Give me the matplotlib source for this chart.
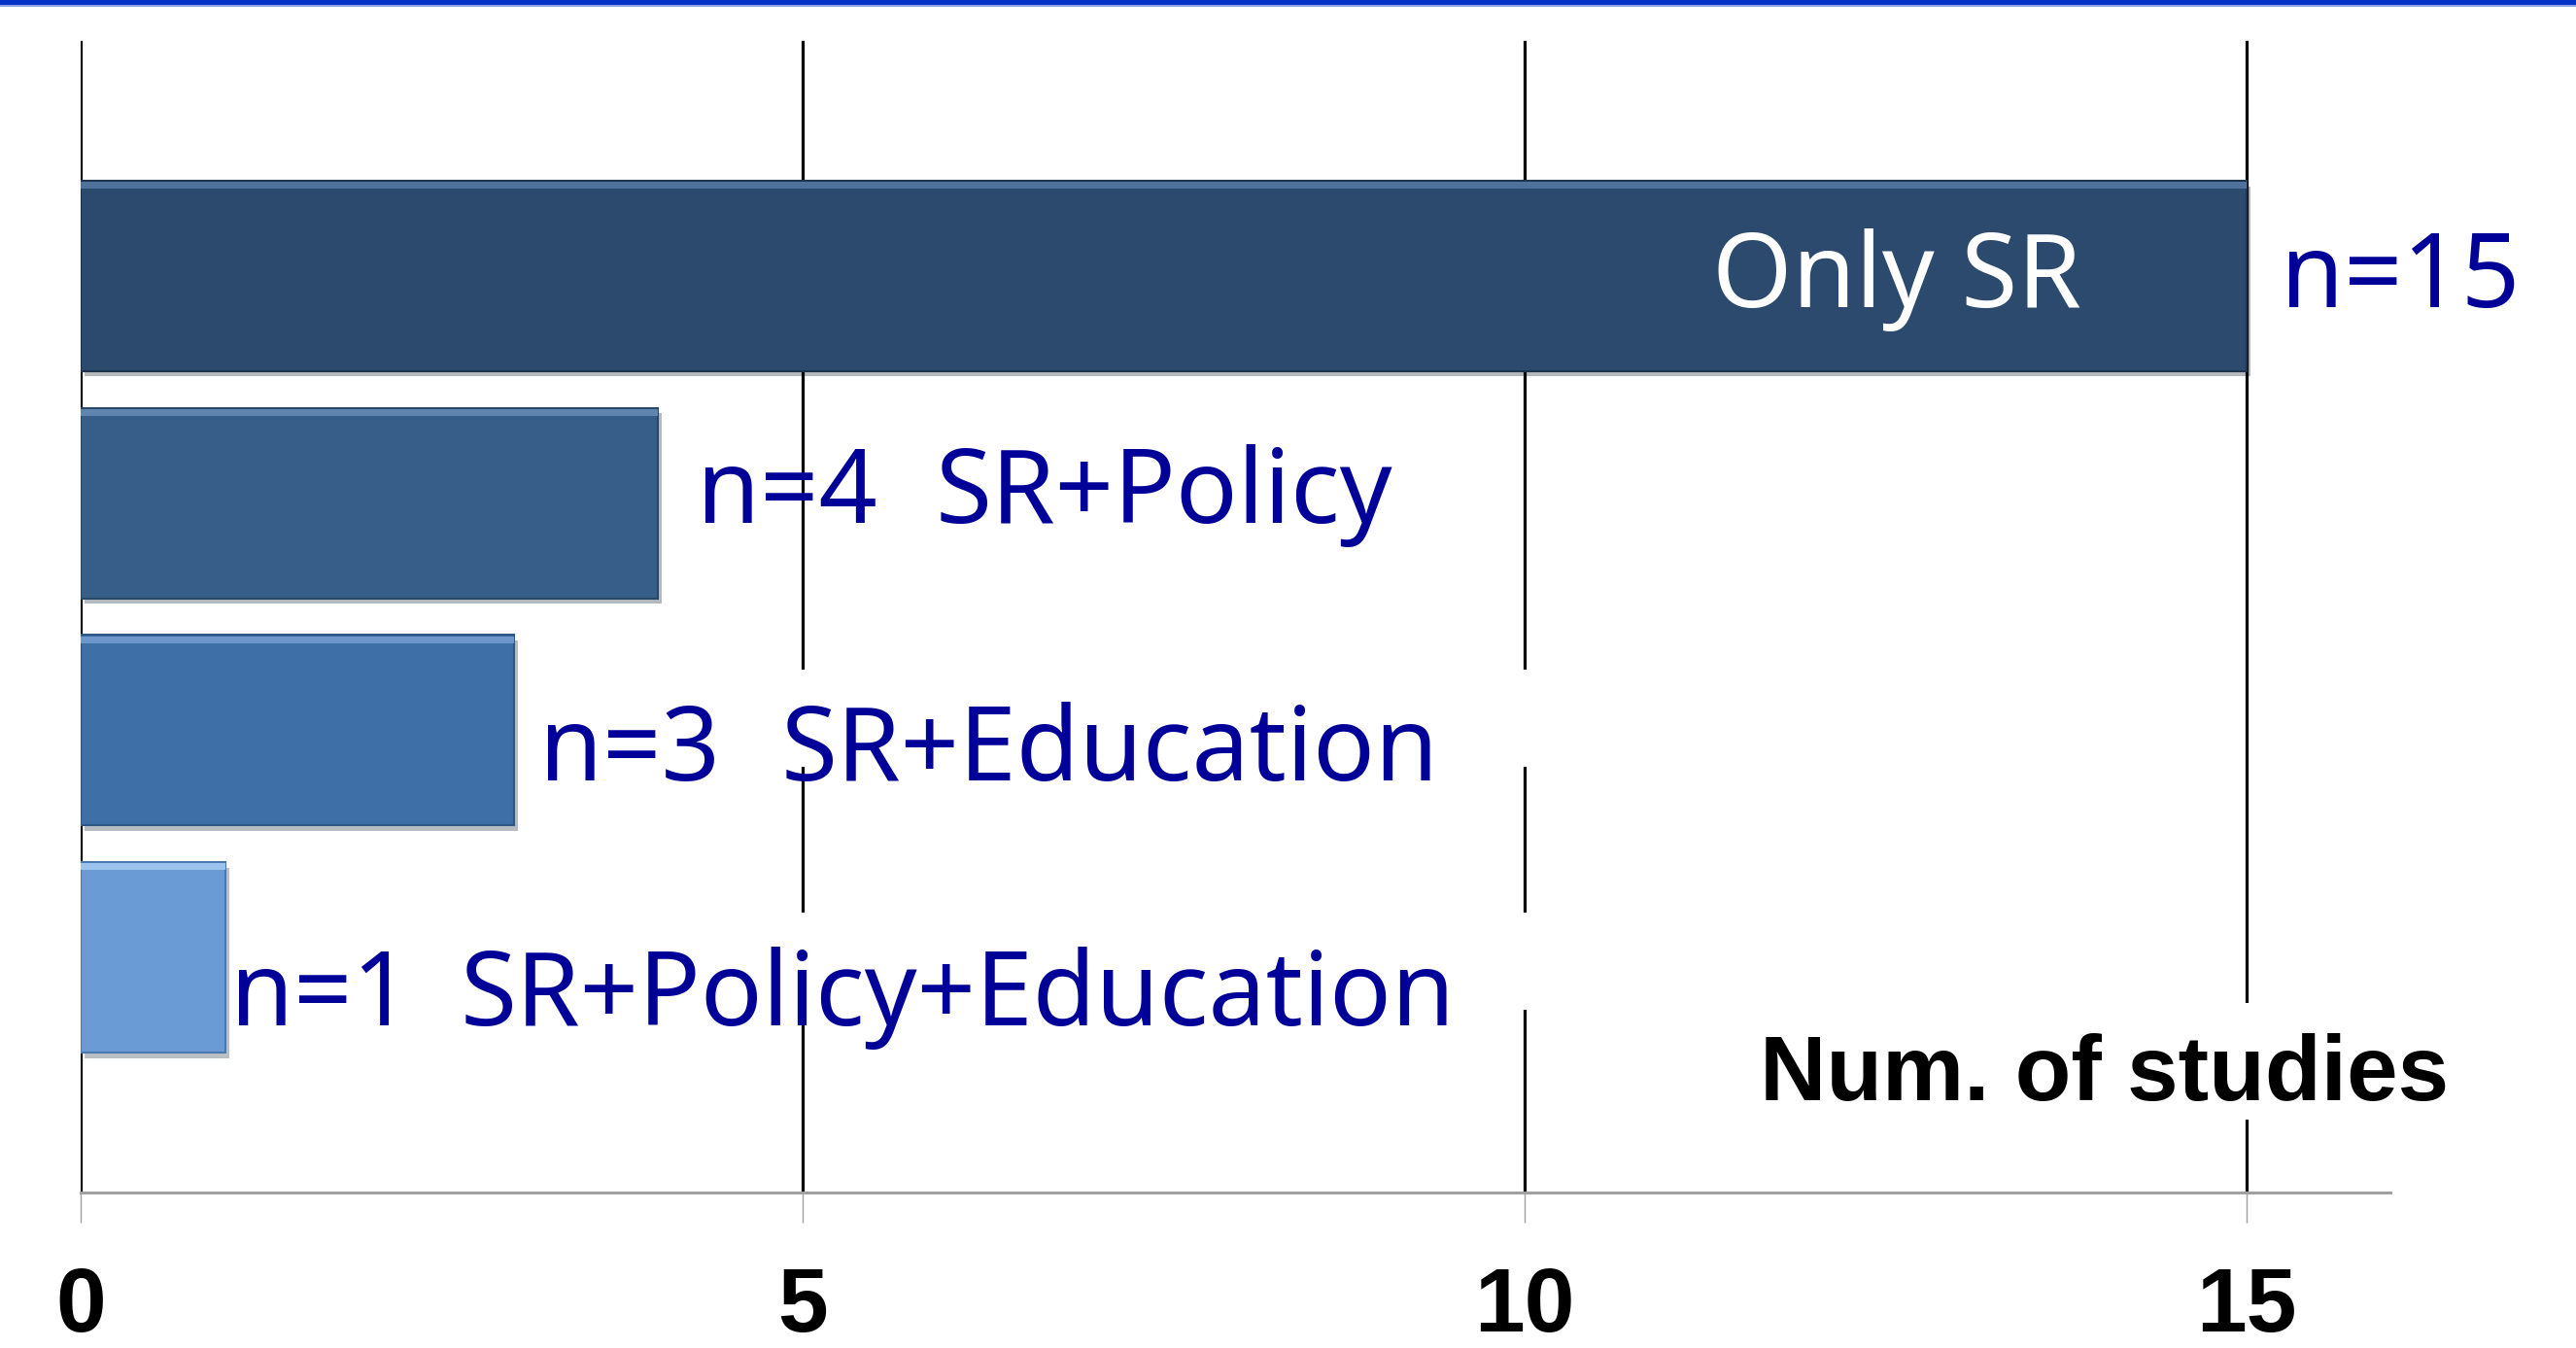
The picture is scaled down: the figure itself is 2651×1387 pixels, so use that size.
import matplotlib
matplotlib.use("Agg")
import matplotlib.pyplot as plt
import matplotlib.patheffects as pe
from matplotlib.patches import Rectangle

# data, bottom bar first
categories = ["SR+Policy+Education", "SR+Education", "SR+Policy", "Only SR"]
studies = [1, 3, 4, 15]
count_labels = ["n=1", "n=3", "n=4", "n=15"]
x_ticks = [0, 5, 10, 15]
axis_title = "Num. of studies"

# styling / placement
bar_colors = ["#6b9bd5", "#3f6fa7", "#365e88", "#2b4a6e"]
edge_colors = ["#4a78b0", "#2e5685", "#274868", "#1d344f"]
top_colors = ["#9cc3ee", "#6d97cc", "#5f84ad", "#50719a"]
label_blue = "#000099"
bar_h = 0.838
count_x = [1.04, 3.18, 4.27, 15.24]   # left edge of "n=" labels
cat_x = [2.63, 4.85, 5.92, 11.30]     # left edge of category labels
label_base = [-0.299, 0.779, 1.913, 2.863]
# white text boxes that hide the grid lines (x0, y0, x1, y1)
text_boxes = [(2.55, -0.231, 10.3, 0.197), (4.78, 0.839, 10.3, 1.267),
              (11.55, -0.714, 16.6, -0.201)]

fig = plt.figure(figsize=(26.51, 13.87), dpi=100)
ax = fig.add_axes([0.0313, 0.1154, 0.8967, 0.8543])

ypos = list(range(len(studies)))
bars = ax.barh(ypos, studies, height=bar_h, color=bar_colors,
               edgecolor=edge_colors, linewidth=1.5, zorder=2)
for b in bars:
    b.set_path_effects([pe.SimplePatchShadow(offset=(3, -4), alpha=0.3), pe.Normal()])
# light bevel along the top edge of each bar
ax.barh([y + bar_h / 2 - 0.02 for y in ypos], studies, height=0.03,
        color=top_colors, linewidth=0, zorder=2.1)

ax.set_xlim(0, 16)
ax.set_ylim(-1.035, 4.035)
ax.set_yticks([])
ax.set_xticks(x_ticks)
ax.set_xticklabels([str(t) for t in x_ticks], fontfamily="Liberation Sans",
                   fontweight="bold", fontsize=67)
ax.tick_params(axis="x", length=22, width=1, color="#a0a0a0", pad=33)
ax.xaxis.grid(True, color="black", linewidth=2.3)
ax.set_axisbelow(True)
for side in ("top", "right", "left"):
    ax.spines[side].set_visible(False)
ax.spines["bottom"].set_color("#a0a0a0")
ax.spines["bottom"].set_linewidth(2.2)

for x0, y0, x1, y1 in text_boxes:
    ax.add_patch(Rectangle((x0, y0), x1 - x0, y1 - y0, facecolor="white",
                           edgecolor="none", zorder=2.5, clip_on=False))

for i, (cat, cnt) in enumerate(zip(categories, count_labels)):
    ax.text(count_x[i], label_base[i], cnt, color=label_blue, fontsize=76,
            fontfamily="Noto Sans", va="baseline", ha="left", zorder=3)
    color = "white" if i == len(categories) - 1 else label_blue
    ax.text(cat_x[i], label_base[i], cat, color=color, fontsize=76,
            fontfamily="Noto Sans", va="baseline", ha="left", zorder=4)

ax.text(11.63, -0.628, axis_title, fontsize=68, fontfamily="Liberation Sans",
        fontweight="bold", color="black", va="baseline", ha="left", zorder=3,
        clip_on=False)

# blue rule across the top of the slide
fig.patches.append(Rectangle((0, 1 - 5 / 1387), 1, 5 / 1387, transform=fig.transFigure,
                             facecolor="#0433c9", edgecolor="none"))
fig.patches.append(Rectangle((0, 1 - 7 / 1387), 1, 2 / 1387, transform=fig.transFigure,
                             facecolor="#8fa3e0", edgecolor="none"))

fig.savefig("out.png", dpi=100, facecolor="white")
